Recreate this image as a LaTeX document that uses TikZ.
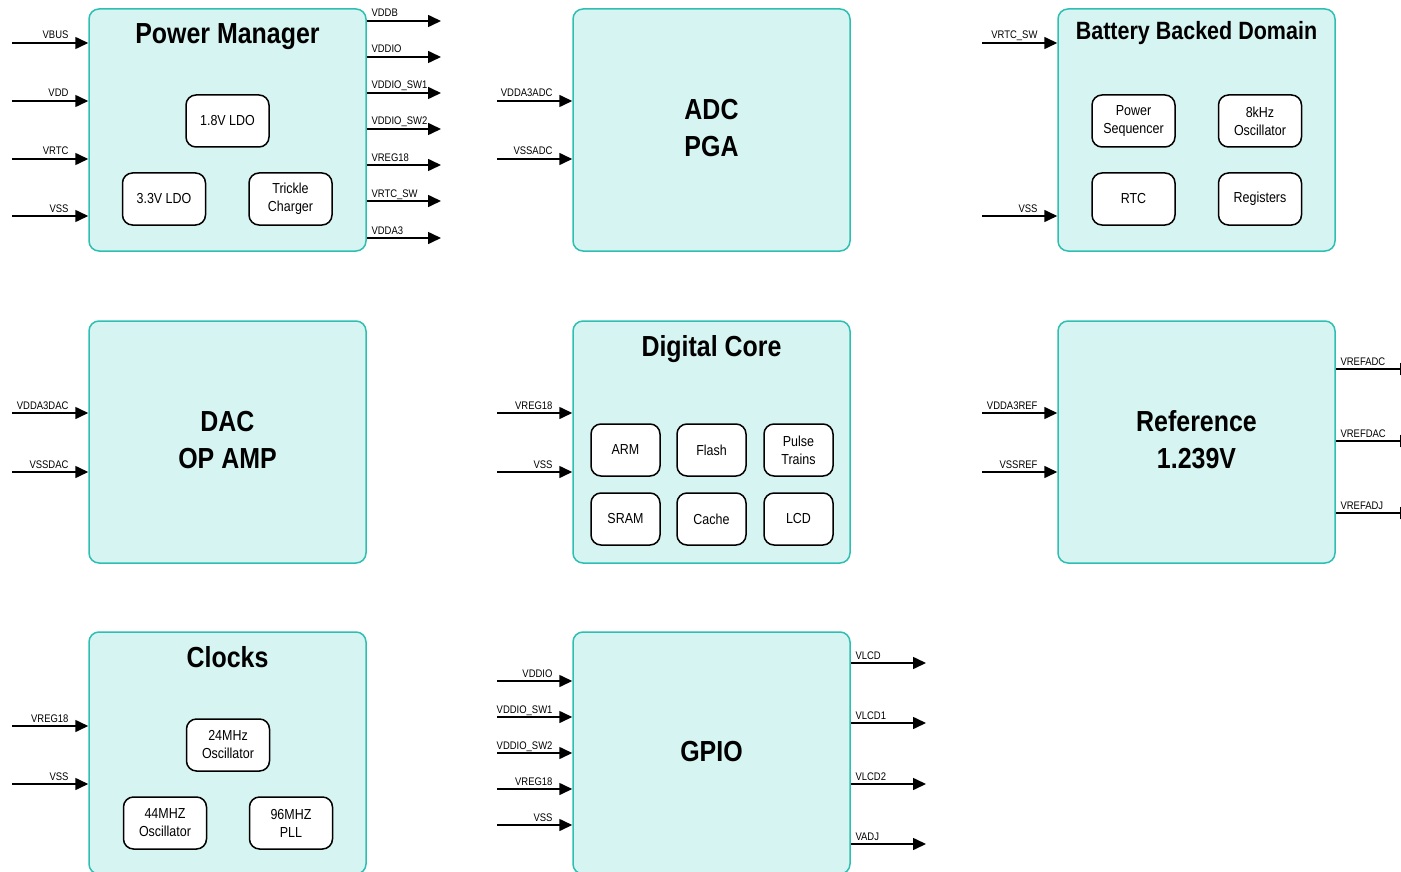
\documentclass[tikz,border=0pt]{standalone}
\usepackage{fontspec}
\setmainfont{Liberation Sans}[FakeStretch=0.86]
\usetikzlibrary{arrows.meta,calc}
\definecolor{blockfill}{RGB}{214,245,242}
\definecolor{blockedge}{RGB}{46,190,178}

\tikzset{
  block/.style={draw=blockedge, fill=blockfill, line width=1.5pt, rounded corners=10pt,
    inner sep=0pt, minimum width=277pt, minimum height=242pt},
  unit/.style={draw=black, fill=white, line width=1.5pt, rounded corners=10pt,
    minimum width=83pt, minimum height=52pt, inner sep=0pt, align=center,
    font=\fontsize{14.5}{18}\selectfont},
  narrowunit/.style={unit, minimum width=69pt},
  title/.style={font=\bfseries\fontsize{29}{37}\selectfont, align=center, inner sep=0pt},
  sig/.style={line width=1.6pt, -{Triangle[length=13pt,width=12pt]}},
  lbl/.style={font=\fontsize{11}{13}\selectfont, inner sep=0pt},
}

% incoming supply: name, block, start x, y, label
\newcommand\sigin[5]{%
  \coordinate (#1) at (#3,#4);
  \draw[sig] (#1) -- (#1 -| #2.west)
    node[lbl, pos=1, anchor=base east, xshift=-19pt, yshift=4pt] {#5};}
% outgoing supply: name, block, end x, y, label
\newcommand\sigout[5]{%
  \coordinate (#1) at (#3,#4);
  \draw[sig] (#1 -| #2.east) -- (#1)
    node[lbl, pos=0, anchor=base west, xshift=4pt, yshift=4pt] {#5};}

\begin{document}
\begin{tikzpicture}[x=1pt, y=-1pt]
\clip (0,0) rectangle (1401,872);

% ---------- blocks ----------
\node[block] (pm)   at (227.5,130) {};
\node[block] (adc)  at (711.5,130) {};
\node[block] (bbd)  at (1196.5,130) {};
\node[block] (dac)  at (227.5,442) {};
\node[block] (core) at (711.5,442) {};
\node[block] (ref)  at (1196.5,442) {};
\node[block] (clk)  at (227.5,753) {};
\node[block] (gpio) at (711.5,753) {};

% ---------- titles ----------
\node[title, anchor=base] (pmt) at (227.5,44) {Power Manager};
\node[title, anchor=base, font=\bfseries\fontsize{25}{30}\selectfont] (bbdt) at (1196.5,40) {Battery Backed Domain};
\node[title, anchor=base] (coret) at (711.5,356) {Digital Core};
\node[title, anchor=base] (clkt) at (227.5,667) {Clocks};
\node[title] (adct) at (711.5,128.5) {ADC\\PGA};
\node[title] (dact) at (227.5,440) {DAC\\OP AMP};
\node[title] (reft) at (1196.5,440) {Reference\\1.239V};
\node[title] (gpiot) at (711.5,752) {GPIO};

% ---------- inner units ----------
\node[unit] (ldo18) at (227.5,121) {1.8V LDO};
\node[unit] (ldo33) at (164,199) {3.3V LDO};
\node[unit] (tc)    at (290.5,199) {Trickle\\Charger};

\node[unit] (pseq) at (1133.5,121) {Power\\Sequencer};
\node[unit] (osc8) at (1260,121) {8kHz\\Oscillator};
\node[unit] (rtc)  at (1133.5,199) {RTC};
\node[unit] (regs) at (1260,199) {Registers};

\node[narrowunit] (arm)   at (625.5,450) {ARM};
\node[narrowunit] (flash) at (711.5,450) {Flash};
\node[narrowunit] (pulse) at (798.5,450) {Pulse\\Trains};
\node[narrowunit] (sram)  at (625.5,519) {SRAM};
\node[narrowunit] (cache) at (711.5,519) {Cache};
\node[narrowunit] (lcd)   at (798.5,519) {LCD};

\node[unit] (osc24) at (228,745) {24MHz\\Oscillator};
\node[unit] (osc44) at (165,823) {44MHZ\\Oscillator};
\node[unit] (pll96) at (291,823) {96MHZ\\PLL};

% ---------- supply connections ----------
\sigin{pmA}{pm}{12}{43}{VBUS}
\sigin{pmB}{pm}{12}{101}{VDD}
\sigin{pmC}{pm}{12}{159}{VRTC}
\sigin{pmD}{pm}{12}{216}{VSS}
\sigout{pmo1}{pm}{441}{21}{VDDB}
\sigout{pmo2}{pm}{441}{57}{VDDIO}
\sigout{pmo3}{pm}{441}{93}{VDDIO\_SW1}
\sigout{pmo4}{pm}{441}{129}{VDDIO\_SW2}
\sigout{pmo5}{pm}{441}{165}{VREG18}
\sigout{pmo6}{pm}{441}{201}{VRTC\_SW}
\sigout{pmo7}{pm}{441}{238}{VDDA3}

\sigin{adcA}{adc}{497}{101}{VDDA3ADC}
\sigin{adcB}{adc}{497}{159}{VSSADC}

\sigin{bbdA}{bbd}{982}{43}{VRTC\_SW}
\sigin{bbdB}{bbd}{982}{216}{VSS}

\sigin{dacA}{dac}{12}{413}{VDDA3DAC}
\sigin{dacB}{dac}{12}{472}{VSSDAC}

\sigin{coreA}{core}{497}{413}{VREG18}
\sigin{coreB}{core}{497}{472}{VSS}

\sigin{refA}{ref}{982}{413}{VDDA3REF}
\sigin{refB}{ref}{982}{472}{VSSREF}
\sigout{refo1}{ref}{1413}{369}{VREFADC}
\sigout{refo2}{ref}{1413}{441}{VREFDAC}
\sigout{refo3}{ref}{1413}{513}{VREFADJ}

\sigin{clkA}{clk}{12}{726}{VREG18}
\sigin{clkB}{clk}{12}{784}{VSS}

\sigin{gpA}{gpio}{497}{681}{VDDIO}
\sigin{gpB}{gpio}{497}{717}{VDDIO\_SW1}
\sigin{gpC}{gpio}{497}{753}{VDDIO\_SW2}
\sigin{gpD}{gpio}{497}{789}{VREG18}
\sigin{gpE}{gpio}{497}{825}{VSS}
\sigout{gpo1}{gpio}{926}{663}{VLCD}
\sigout{gpo2}{gpio}{926}{723}{VLCD1}
\sigout{gpo3}{gpio}{926}{784}{VLCD2}
\sigout{gpo4}{gpio}{926}{844}{VADJ}
\end{tikzpicture}
\end{document}
